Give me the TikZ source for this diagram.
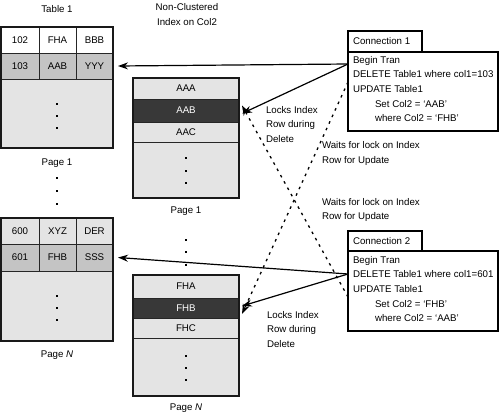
\documentclass[tikz,border=0pt]{standalone}
\usepackage{fontspec}
\setmainfont{Liberation Sans}
\usetikzlibrary{arrows.meta}
\definecolor{lightg}{HTML}{E4E4E4}
\definecolor{midg}{HTML}{C4C4C4}
\definecolor{darkg}{HTML}{383838}
\begin{document}
\begin{tikzpicture}[x=1pt,y=-1pt,
  every node/.style={font=\fontsize{9.7}{14.7}\selectfont, inner sep=0pt, outer sep=0pt},
  cell/.style={draw=black!85, line width=0.8pt, anchor=north west, fill=lightg},
  frame/.style={draw=black!90, line width=1.4pt},
  lbl/.style={align=left, anchor=west},
  ctr/.style={align=center},
  dotmark/.style={fill=black, draw=none, minimum size=2.2pt, shape=rectangle},
  solidarrow/.style={line width=1.2pt, -{Stealth[length=10pt,width=7pt]}},
  dotarrow/.style={line width=1.3pt, dash pattern=on 2.6pt off 4.6pt, -{Stealth[length=10pt,width=7pt]}},
  conn/.style={draw=black, line width=1.2pt, fill=white, anchor=north west}
]
\useasboundingbox (0,0) rectangle (500,415);

% ---------- Table 1, Page 1 ----------
\node[ctr] (t1title) at (57,9) {Table 1};
\node[cell, fill=white, minimum width=38pt, minimum height=26pt] (t1a1) at (1,27) {102};
\node[cell, fill=white, minimum width=37pt, minimum height=26pt] (t1a2) at (39,27) {FHA};
\node[cell, fill=white, minimum width=37pt, minimum height=26pt] (t1a3) at (76,27) {BBB};
\node[cell, fill=midg, minimum width=38pt, minimum height=26pt] (t1b1) at (1,53) {103};
\node[cell, fill=midg, minimum width=37pt, minimum height=26pt] (t1b2) at (39,53) {AAB};
\node[cell, fill=midg, minimum width=37pt, minimum height=26pt] (t1b3) at (76,53) {YYY};
\node[cell, minimum width=112pt, minimum height=69pt] (t1body) at (1,79) {};
\draw[frame] (1,27) rectangle (113,148);
\node[dotmark] (t1d1) at (57,104) {};
\node[dotmark] (t1d2) at (57,116) {};
\node[dotmark] (t1d3) at (57,128) {};
\node[ctr] (t1page) at (57,163) {Page 1};
\node[dotmark] (tg1) at (57,178) {};
\node[dotmark] (tg2) at (57,191) {};
\node[dotmark] (tg3) at (57,204) {};

% ---------- Table 1, Page N ----------
\node[cell, minimum width=38pt, minimum height=26pt] (t2a1) at (1,218) {600};
\node[cell, minimum width=37pt, minimum height=26pt] (t2a2) at (39,218) {XYZ};
\node[cell, minimum width=37pt, minimum height=26pt] (t2a3) at (76,218) {DER};
\node[cell, fill=midg, minimum width=38pt, minimum height=27pt] (t2b1) at (1,244) {601};
\node[cell, fill=midg, minimum width=37pt, minimum height=27pt] (t2b2) at (39,244) {FHB};
\node[cell, fill=midg, minimum width=37pt, minimum height=27pt] (t2b3) at (76,244) {SSS};
\node[cell, minimum width=112pt, minimum height=70pt] (t2body) at (1,271) {};
\draw[frame] (1,218) rectangle (113,341);
\node[dotmark] (t2d1) at (57,296) {};
\node[dotmark] (t2d2) at (57,308) {};
\node[dotmark] (t2d3) at (57,320) {};
\node[ctr] (t2page) at (57,355) {Page \textit{N}};

% ---------- Index, Page 1 ----------
\node[ctr] (ixtitle) at (187,14.5) {Non-Clustered\\Index on Col2};
\node[cell, minimum width=106pt, minimum height=21pt] (i1a) at (133,78) {AAA};
\node[cell, fill=darkg, text=white, minimum width=106pt, minimum height=23pt] (i1b) at (133,99) {AAB};
\node[cell, minimum width=106pt, minimum height=20pt] (i1c) at (133,122) {AAC};
\node[cell, minimum width=106pt, minimum height=56pt] (i1body) at (133,142) {};
\draw[frame] (133,78) rectangle (239,198);
\node[dotmark] (i1d1) at (186,158) {};
\node[dotmark] (i1d2) at (186,171) {};
\node[dotmark] (i1d3) at (186,183) {};
\node[ctr] (i1page) at (186,211) {Page 1};
\node[dotmark] (ig1) at (186,240) {};
\node[dotmark] (ig2) at (186,252) {};
\node[dotmark] (ig3) at (186,265) {};

% ---------- Index, Page N ----------
\node[cell, minimum width=106pt, minimum height=23pt] (i2a) at (133,275) {FHA};
\node[cell, fill=darkg, text=white, minimum width=106pt, minimum height=20pt] (i2b) at (133,298) {FHB};
\node[cell, minimum width=106pt, minimum height=20pt] (i2c) at (133,318) {FHC};
\node[cell, minimum width=106pt, minimum height=58pt] (i2body) at (133,338) {};
\draw[frame] (133,275) rectangle (239,396);
\node[dotmark] (i2d1) at (186,356) {};
\node[dotmark] (i2d2) at (186,368) {};
\node[dotmark] (i2d3) at (186,380) {};
\node[ctr] (i2page) at (186,408) {Page \textit{N}};

% ---------- Connection 1 ----------
\node[conn, minimum width=74pt, minimum height=21pt] (c1tab) at (348,31) {};
\node[anchor=west] (c1name) at (353,41.5) {Connection 1};
\node[conn, minimum width=150pt, minimum height=79pt] (c1body) at (348,52) {};
\node[anchor=north west, align=left] (c1text) at (353,56) {Begin Tran\\DELETE Table1 where col1=103\\UPDATE Table1\\\hspace*{22pt}Set Col2 = ‘AAB’\\\hspace*{22pt}where Col2 = ‘FHB’};

% ---------- Connection 2 ----------
\node[conn, minimum width=74pt, minimum height=20pt] (c2tab) at (348,231) {};
\node[anchor=west] (c2name) at (353,241) {Connection 2};
\node[conn, minimum width=150pt, minimum height=80pt] (c2body) at (348,251) {};
\node[anchor=north west, align=left] (c2text) at (353,256) {Begin Tran\\DELETE Table1 where col1=601\\UPDATE Table1\\\hspace*{22pt}Set Col2 = ‘FHB’\\\hspace*{22pt}where Col2 = ‘AAB’};

% ---------- Labels ----------
\node[lbl] (lk1) at (266,124.5) {Locks Index\\Row during\\Delete};
\node[lbl] (lk2) at (267,329.5) {Locks Index\\Row during\\Delete};
\node[lbl] (w1) at (322,153.5) {Waits for lock on Index\\Row for Update};
\node[lbl] (w2) at (322,210) {Waits for lock on Index\\Row for Update};

% ---------- Connectors ----------
\coordinate (c1p) at (348,64);
\coordinate (c2p) at (348,274);
\coordinate (c1q) at (348,82);
\coordinate (c2q) at (348,297);
\draw[solidarrow] (c1p) -- ([xshift=5pt]t1b3.east);
\draw[solidarrow] (c1p) -- ([xshift=3pt,yshift=-3pt]i1b.east);
\draw[solidarrow] (c2p) -- ([xshift=5pt]t2b3.east);
\draw[solidarrow] (c2p) -- ([xshift=3pt,yshift=2pt]i2b.east);
\draw[dotarrow] (c1q) -- ([xshift=3pt,yshift=-6pt]i2b.east);
\draw[dotarrow] (c2q) -- ([xshift=3pt,yshift=5pt]i1b.east);
\end{tikzpicture}
\end{document}
